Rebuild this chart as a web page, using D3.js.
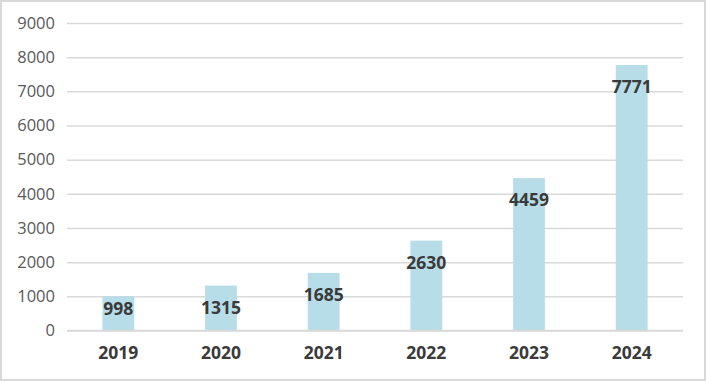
<!DOCTYPE html>
<html><head><meta charset="utf-8">
<script src="https://cdn.jsdelivr.net/npm/d3@7"></script>
<style>body{margin:0;background:#fff}svg{display:block}</style>
</head><body>
<script>
const years = ["2019","2020","2021","2022","2023","2024"];
const values = [998,1315,1685,2630,4459,7771];
const yTicks = [0,1000,2000,3000,4000,5000,6000,7000,8000,9000];

const W=706,H=381;
const svg=d3.select("body").append("svg").attr("width",W).attr("height",H);
svg.append("rect").attr("x",1).attr("y",1).attr("width",W-2).attr("height",H-2)
  .attr("fill","#fff").attr("stroke","#d9d9d9").attr("stroke-width",2);

const x=d3.scaleBand().domain(years).range([67,683]).paddingInner(0.69).paddingOuter(0.345);
const y=d3.scaleLinear().domain([0,9000]).range([330.5,23]);
const font="'Open Sans', 'Noto Sans', sans-serif";

const ya=svg.append("g").attr("transform","translate(67,0)")
  .call(d3.axisLeft(y).tickValues(yTicks).tickSize(-616).tickPadding(12).tickFormat(d3.format("d")));
ya.select(".domain").remove();
ya.selectAll(".tick line").attr("stroke","#d9d9d9").attr("stroke-width",1.5);
ya.selectAll(".tick text").attr("fill","#595959").style("font-family",font).style("font-size","16.5px");

svg.selectAll("rect.bar").data(values).enter().append("rect").attr("class","bar")
  .attr("x",(d,i)=>x(years[i])).attr("width",x.bandwidth())
  .attr("y",d=>y(d)).attr("height",d=>y(0)-y(d)).attr("fill","#b7dde8");

svg.append("line").attr("x1",67).attr("x2",683).attr("y1",y(0)).attr("y2",y(0))
  .attr("stroke","#d9d9d9").attr("stroke-width",1.5);

svg.selectAll("text.val").data(values).enter().append("text").attr("class","val")
  .attr("x",(d,i)=>x(years[i])+x.bandwidth()/2)
  .attr("y",d=>Math.min(y(d)+22,y(0)-22))
  .attr("dy","0.35em").attr("text-anchor","middle")
  .attr("fill","#3a3a3a").style("font-family",font).style("font-size","17.5px").style("font-weight","bold")
  .text(d=>d);

const xa=svg.append("g").attr("transform",`translate(0,${y(0)})`)
  .call(d3.axisBottom(x).tickSize(0).tickPadding(16));
xa.select(".domain").remove();
xa.selectAll(".tick text").attr("fill","#3a3a3a").style("font-family",font).style("font-size","17.5px").style("font-weight","bold");
</script>
</body></html>
